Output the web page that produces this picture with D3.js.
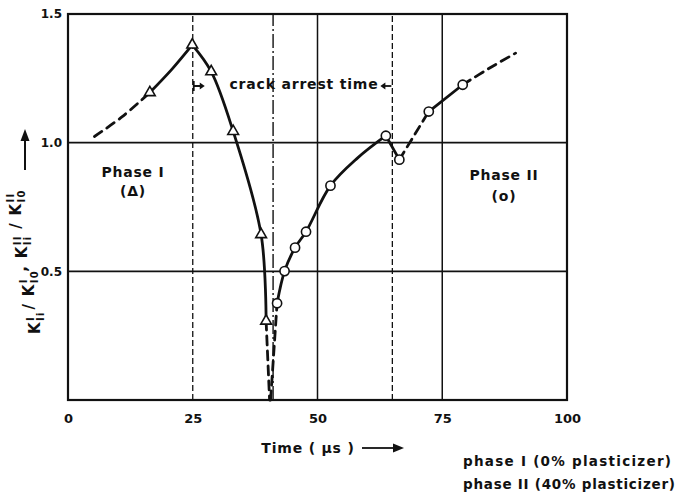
<!DOCTYPE html>
<html>
<head>
<meta charset="utf-8">
<script src="https://cdn.jsdelivr.net/npm/d3@7"></script>
<style>
  body { margin: 0; background: #fff; }
  svg text { font-family: "DejaVu Sans", sans-serif; font-weight: bold; fill: #111; }
</style>
</head>
<body>
<div id="chart"></div>
<script>
// tick labels
var xTicks = [0, 25, 50, 75, 100];
var yTicks = [0.5, 1.0, 1.5];

// reference lines (time in us / ratio)
var gridY = [0.5, 1.0];
var vSolid = [50, 75];
var vDashed = [25, 65];
var vDashDot = [41.1];

// phase I (triangles)
var triPoints = [[16.4, 1.195], [24.9, 1.38], [28.7, 1.276], [33.1, 1.044], [38.7, 0.643], [39.7, 0.307]];
var phase1Lead = [[5.3, 1.024], [10.8, 1.10], [16.4, 1.195]];
var phase1Rise = [[16.4, 1.195], [20.8, 1.285], [24.9, 1.38]];
var phase1Fall = [[24.9, 1.38], [28.7, 1.276], [33.1, 1.044], [38.7, 0.643], [39.7, 0.307]];
var phase1Tail = [[39.7, 0.307], [40.4, 0]];

// phase II (circles)
var circPoints = [[41.9, 0.376], [43.4, 0.501], [45.5, 0.592], [47.7, 0.654], [52.6, 0.833],
                  [63.7, 1.027], [66.4, 0.934], [72.3, 1.121], [79.1, 1.225]];
var phase2Head = [[40.6, 0], [41.9, 0.376]];
var phase2Main = [[41.9, 0.376], [43.4, 0.501], [45.5, 0.592], [47.7, 0.654], [52.6, 0.833], [58.0, 0.94], [63.7, 1.027]];
var phase2Drop = [[63.7, 1.027], [66.4, 0.934]];
var phase2Jump = [[66.4, 0.934], [72.3, 1.121]];
var phase2Mid = [[72.3, 1.121], [79.1, 1.225]];
var phase2Tail = [[79.1, 1.225], [84.5, 1.29], [89.7, 1.348]];

var W = 678, H = 495;

var svg = d3.select("#chart").append("svg")
    .attr("width", W)
    .attr("height", H);

var x = d3.scaleLinear().domain([0, 100]).range([68, 567]);
var y = d3.scaleLinear().domain([0, 1.5]).range([400, 14]);

// grid lines
svg.selectAll(".gy").data(gridY).enter().append("line")
    .attr("x1", x(0)).attr("x2", x(100))
    .attr("y1", function (d) { return y(d); })
    .attr("y2", function (d) { return y(d); })
    .style("stroke", "#111").style("stroke-width", 1.6);

svg.selectAll(".vs").data(vSolid).enter().append("line")
    .attr("x1", function (d) { return x(d); }).attr("x2", function (d) { return x(d); })
    .attr("y1", y(0)).attr("y2", y(1.5))
    .style("stroke", "#111").style("stroke-width", 1.5);

svg.selectAll(".vd").data(vDashed).enter().append("line")
    .attr("x1", function (d) { return x(d); }).attr("x2", function (d) { return x(d); })
    .attr("y1", y(0)).attr("y2", y(1.5))
    .style("stroke", "#111").style("stroke-width", 1.3)
    .style("stroke-dasharray", "6,3");

svg.selectAll(".vdd").data(vDashDot).enter().append("line")
    .attr("x1", function (d) { return x(d); }).attr("x2", function (d) { return x(d); })
    .attr("y1", y(0)).attr("y2", y(1.5))
    .style("stroke", "#111").style("stroke-width", 1.4)
    .style("stroke-dasharray", "14,3,2,3");

// frame
svg.append("rect")
    .attr("x", x(0)).attr("y", y(1.5))
    .attr("width", x(100) - x(0)).attr("height", y(0) - y(1.5))
    .style("fill", "none").style("stroke", "#111").style("stroke-width", 2.2);

// axes
var xAxis = d3.axisBottom(x).tickValues(xTicks).tickSize(0).tickPadding(14);
var gx = svg.append("g").attr("transform", "translate(0," + y(0) + ")").call(xAxis);
gx.select(".domain").remove();
gx.selectAll("text").style("font-size", "13px").style("font-family", "DejaVu Sans").style("font-weight", "bold");

var yAxis = d3.axisLeft(y).tickValues(yTicks).tickSize(0).tickPadding(6).tickFormat(d3.format(".1f"));
var gy = svg.append("g").attr("transform", "translate(" + x(0) + ",0)").call(yAxis);
gy.select(".domain").remove();
gy.selectAll("text").style("font-size", "12px").style("font-family", "DejaVu Sans").style("font-weight", "bold");

// curves
var smooth = d3.line()
    .x(function (d) { return x(d[0]); })
    .y(function (d) { return y(d[1]); })
    .curve(d3.curveCatmullRom.alpha(0.5));

function drawCurve(pts, dashed) {
    svg.append("path")
        .attr("d", smooth(pts))
        .style("fill", "none")
        .style("stroke", "#111")
        .style("stroke-width", 2.8)
        .style("stroke-linecap", "round")
        .style("stroke-dasharray", dashed ? "9,6" : null);
}

drawCurve(phase1Lead, true);
drawCurve(phase1Rise, false);
drawCurve(phase1Fall, false);
drawCurve(phase1Tail, true);
drawCurve(phase2Head, true);
drawCurve(phase2Main, false);
drawCurve(phase2Drop, false);
drawCurve(phase2Jump, true);
drawCurve(phase2Mid, false);
drawCurve(phase2Tail, true);

// markers
svg.selectAll(".tri").data(triPoints).enter().append("path")
    .attr("d", d3.symbol().type(d3.symbolTriangle).size(50))
    .attr("transform", function (d) { return "translate(" + x(d[0]) + "," + y(d[1]) + ")"; })
    .style("fill", "#fff").style("stroke", "#111").style("stroke-width", 1.6);

svg.selectAll(".circ").data(circPoints).enter().append("circle")
    .attr("cx", function (d) { return x(d[0]); })
    .attr("cy", function (d) { return y(d[1]); })
    .attr("r", 4.6)
    .style("fill", "#fff").style("stroke", "#111").style("stroke-width", 1.6);

// annotations
function label(tx, ty, s, size, anchor) {
    return svg.append("text")
        .attr("x", tx).attr("y", ty)
        .attr("text-anchor", anchor || "middle")
        .style("font-size", size + "px")
        .style("letter-spacing", "0.8px")
        .text(s);
}

label(133, 177, "Phase I", 14);
label(133, 196, "(\u0394)", 14);
label(504, 180, "Phase II", 14);
label(504, 201, "(o)", 14);

label(304, 89, "crack arrest time", 14);
// arrest-time brackets
svg.append("path")
    .attr("d", "M" + (x(25) + 1) + ",81 v10 M" + (x(25) + 1) + ",86 h8")
    .style("stroke", "#111").style("stroke-width", 1.8).style("fill", "none");
svg.append("path")
    .attr("d", "M" + (x(25) + 12) + ",86 l-5,-3.5 v7 z")
    .style("fill", "#111");
svg.append("path")
    .attr("d", "M" + (x(65) - 1) + ",86 h-8")
    .style("stroke", "#111").style("stroke-width", 1.8).style("fill", "none");
svg.append("path")
    .attr("d", "M" + (x(65) - 12) + ",86 l5,-3.5 v7 z")
    .style("fill", "#111");

// x axis title
label(308, 453, "Time  ( \u03bcs )", 14);
svg.append("line")
    .attr("x1", 362).attr("x2", 394).attr("y1", 448).attr("y2", 448)
    .style("stroke", "#111").style("stroke-width", 1.8);
svg.append("path").attr("d", "M404,448 l-11,-4.5 v9 z").style("fill", "#111");

// notes on the two phases
label(463, 466, "phase I (0% plasticizer)", 13.5, "start")
    .style("letter-spacing", null)
    .attr("textLength", 208).attr("lengthAdjust", "spacing");
label(463, 489, "phase II (40% plasticizer)", 13.5, "start")
    .style("letter-spacing", null)
    .attr("textLength", 212).attr("lengthAdjust", "spacing");

// y axis title (rotated, with stacked sub/superscripts)
var yt = svg.append("text")
    .attr("transform", "translate(40,334) rotate(-90)")
    .attr("text-anchor", "start")
    .style("font-size", "15px")
    .style("letter-spacing", "1.3px");

function kTerm(sup, sub) {
    yt.append("tspan").text("K");
    var s1 = yt.append("tspan").attr("dy", 4).style("font-size", "10px").text(sub);
    var w = s1.node().getComputedTextLength();
    var s2 = yt.append("tspan").attr("dx", -w).attr("dy", -10.5).style("font-size", "10px").text(sup);
    var w2 = s2.node().getComputedTextLength();
    yt.append("tspan").attr("dx", Math.max(0, w - w2)).attr("dy", 6.5).text("");
}
kTerm("I", "Ii");
yt.append("tspan").text(" / ");
kTerm("I", "I0");
yt.append("tspan").text(" ,    ");
kTerm("II", "Ii");
yt.append("tspan").text(" / ");
kTerm("II", "I0");

svg.append("line")
    .attr("x1", 25).attr("x2", 25).attr("y1", 170).attr("y2", 140)
    .style("stroke", "#111").style("stroke-width", 2);
svg.append("path").attr("d", "M25,129 l-4.5,12 h9 z").style("fill", "#111");
</script>
</body>
</html>
